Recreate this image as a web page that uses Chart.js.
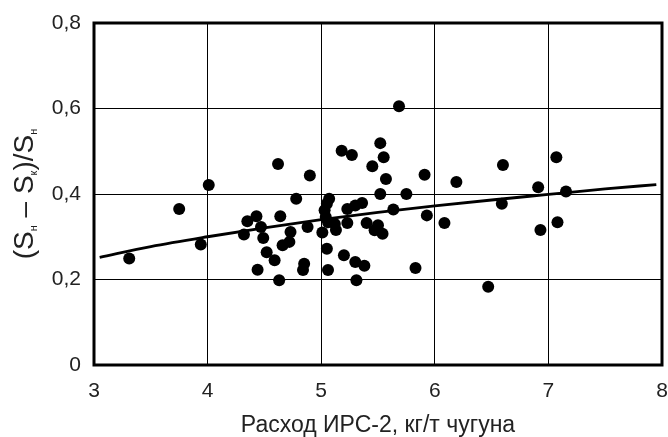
<!DOCTYPE html>
<html>
<head>
<meta charset="utf-8">
<script src="https://cdn.jsdelivr.net/npm/chart.js@4/dist/chart.umd.min.js"></script>
<style>
  html, body { margin: 0; padding: 0; background: #fff; overflow: hidden; }
  canvas { display: block; }
</style>
</head>
<body>
<canvas id="chart" width="668" height="437"></canvas>
<script>
// measured points: consumption (kg/t) and relative decrease
const xVals = [
  3.31, 3.75, 4.01, 3.94, 4.32, 4.35, 4.43, 4.47, 4.49, 4.64,
  4.62, 4.78, 4.90, 4.73, 4.66, 4.72, 4.52, 4.59, 4.44, 4.63,
  4.85, 4.84, 4.88, 5.01, 5.07, 5.05, 5.03, 5.04, 5.06, 5.12,
  5.13, 5.05, 5.06, 5.20, 5.30, 5.38, 5.31, 5.18, 5.27, 5.23,
  5.30, 5.36, 5.23, 5.40, 5.45, 5.52, 5.55, 5.57, 5.52, 5.47,
  5.54, 5.50, 5.685, 5.75, 5.91, 5.635, 5.93, 5.83, 6.085, 6.19,
  6.60, 6.59, 6.47, 6.91, 7.07, 7.155, 6.93, 7.08
];
const yVals = [
  0.249, 0.365, 0.421, 0.282, 0.305, 0.336, 0.348, 0.323, 0.297, 0.348,
  0.470, 0.389, 0.443, 0.311, 0.280, 0.288, 0.264, 0.245, 0.223, 0.198,
  0.237, 0.222, 0.323, 0.310, 0.389, 0.377, 0.362, 0.346, 0.334, 0.330,
  0.316, 0.272, 0.222, 0.257, 0.241, 0.232, 0.198, 0.501, 0.491, 0.365,
  0.373, 0.379, 0.332, 0.332, 0.465, 0.519, 0.486, 0.435, 0.400, 0.315,
  0.307, 0.327, 0.605, 0.400, 0.445, 0.364, 0.350, 0.227, 0.332, 0.428,
  0.468, 0.377, 0.183, 0.416, 0.486, 0.406, 0.316, 0.334
];

// trend curve
const trendX = [3.05, 3.5, 4.0, 4.5, 5.0, 5.5, 6.0, 6.5, 7.0, 7.5, 7.95];
const trendY = [0.252, 0.277, 0.300, 0.321, 0.340, 0.357, 0.372, 0.386, 0.399, 0.412, 0.422];

const xTicks = [3, 4, 5, 6, 7, 8];
const xTickLabels = ['3', '4', '5', '6', '7', '8'];
const yTicks = [0, 0.2, 0.4, 0.6, 0.8];
const yTickLabels = ['0', '0,2', '0,4', '0,6', '0,8'];

const xTitle = 'Расход ИРС-2, кг/т чугуна';
// y title pieces: [text, isSubscript]
const yTitleParts = [['(S', false], ['н', true], [' – S', false], ['к', true], [')/S', false], ['н', true]];

const FONT = '"Liberation Sans", Arial, sans-serif';
const TEXT = '#222';

const points = xVals.map((x, i) => ({ x: x, y: yVals[i] }));
const trend = trendX.map((x, i) => ({ x: x, y: trendY[i] }));

// frame + rotated y title with subscripts
const decor = {
  id: 'decor',
  afterDraw(chart) {
    const ctx = chart.ctx;
    const a = chart.chartArea;
    ctx.save();
    ctx.strokeStyle = '#000';
    ctx.lineWidth = 3;
    ctx.strokeRect(a.left, a.top, a.right - a.left, a.bottom - a.top);
    ctx.restore();

    ctx.save();
    const mainFont = '28px ' + FONT;
    const subFont = '11px ' + FONT;
    let total = 0;
    yTitleParts.forEach(p => {
      ctx.font = p[1] ? subFont : mainFont;
      total += ctx.measureText(p[0]).width;
    });
    ctx.translate(33, (a.top + a.bottom) / 2);
    ctx.rotate(-Math.PI / 2);
    ctx.fillStyle = TEXT;
    ctx.textBaseline = 'alphabetic';
    ctx.textAlign = 'left';
    let pos = -total / 2;
    yTitleParts.forEach(p => {
      ctx.font = p[1] ? subFont : mainFont;
      ctx.fillText(p[0], pos, p[1] ? 4 : 0);
      pos += ctx.measureText(p[0]).width;
    });
    ctx.restore();
  }
};

new Chart(document.getElementById('chart').getContext('2d'), {
  type: 'scatter',
  data: {
    datasets: [
      {
        data: points,
        pointRadius: 6,
        pointHoverRadius: 6,
        backgroundColor: '#000',
        borderWidth: 0,
        order: 1
      },
      {
        type: 'line',
        data: trend,
        showLine: true,
        borderColor: '#000',
        borderWidth: 2.8,
        pointRadius: 0,
        cubicInterpolationMode: 'monotone',
        fill: false,
        order: 2
      }
    ]
  },
  options: {
    responsive: false,
    animation: false,
    events: [],
    layout: { padding: { top: 23, right: 2, left: 0, bottom: 0 } },
    plugins: { legend: { display: false }, tooltip: { enabled: false } },
    scales: {
      x: {
        type: 'linear',
        min: 3, max: 8,
        afterBuildTicks: s => { s.ticks = xTicks.map(v => ({ value: v })); },
        afterFit: s => { s.height = 72; s.paddingLeft = 0; s.paddingRight = 0; },
        ticks: {
          callback: (v, i) => xTickLabels[i],
          color: TEXT,
          font: { family: FONT, size: 21 },
          padding: 14,
          maxRotation: 0,
          autoSkip: false
        },
        grid: { color: '#000', lineWidth: 1, drawTicks: false },
        border: { display: false },
        title: {
          display: true,
          text: xTitle,
          color: TEXT,
          font: { family: FONT, size: 23, lineHeight: 1 },
          padding: { top: 0, bottom: 0 }
        }
      },
      y: {
        type: 'linear',
        min: 0, max: 0.8,
        afterBuildTicks: s => { s.ticks = yTicks.map(v => ({ value: v })); },
        afterFit: s => { s.width = 94; s.paddingTop = 0; s.paddingBottom = 0; },
        ticks: {
          callback: (v, i) => yTickLabels[i],
          color: TEXT,
          font: { family: FONT, size: 21 },
          padding: 13,
          autoSkip: false
        },
        grid: { color: '#000', lineWidth: 1, drawTicks: false },
        border: { display: false }
      }
    }
  },
  plugins: [decor]
});
</script>
</body>
</html>
